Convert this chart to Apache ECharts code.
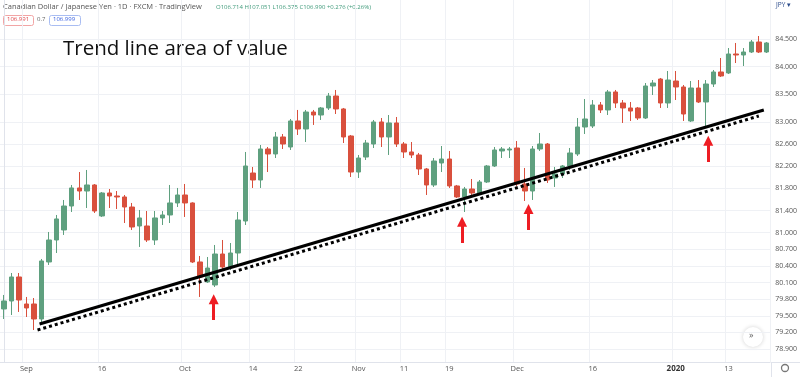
<!DOCTYPE html>
<html>
<head>
<meta charset="utf-8">
<script src="https://cdn.jsdelivr.net/npm/echarts@6/dist/echarts.min.js"></script>
<style>
  html, body { margin: 0; padding: 0; background: #fff; }
  #main { width: 800px; height: 377px; }
</style>
</head>
<body>
<div id="main"></div>
<script>
// trading days shown on the chart
var dates = [
  '2019-08-28', '2019-08-29', '2019-08-30',
  '2019-09-02', '2019-09-03', '2019-09-04', '2019-09-05', '2019-09-06', '2019-09-09', '2019-09-10',
  '2019-09-11', '2019-09-12', '2019-09-13', '2019-09-16', '2019-09-17', '2019-09-18', '2019-09-19',
  '2019-09-20', '2019-09-23', '2019-09-24', '2019-09-25', '2019-09-26', '2019-09-27', '2019-09-30',
  '2019-10-01', '2019-10-02', '2019-10-03', '2019-10-04', '2019-10-07', '2019-10-08', '2019-10-09',
  '2019-10-10', '2019-10-11', '2019-10-14', '2019-10-15', '2019-10-16', '2019-10-17', '2019-10-18',
  '2019-10-21', '2019-10-22', '2019-10-23', '2019-10-24', '2019-10-25', '2019-10-28', '2019-10-29',
  '2019-10-30', '2019-10-31',
  '2019-11-01', '2019-11-04', '2019-11-05', '2019-11-06', '2019-11-07', '2019-11-08', '2019-11-11',
  '2019-11-12', '2019-11-13', '2019-11-14', '2019-11-15', '2019-11-18', '2019-11-19', '2019-11-20',
  '2019-11-21', '2019-11-22', '2019-11-25', '2019-11-26', '2019-11-27', '2019-11-28', '2019-11-29',
  '2019-12-02', '2019-12-03', '2019-12-04', '2019-12-05', '2019-12-06', '2019-12-09', '2019-12-10',
  '2019-12-11', '2019-12-12', '2019-12-13', '2019-12-16', '2019-12-17', '2019-12-18', '2019-12-19',
  '2019-12-20', '2019-12-23', '2019-12-24', '2019-12-26', '2019-12-27', '2019-12-30', '2019-12-31',
  '2020-01-02', '2020-01-03', '2020-01-06', '2020-01-07', '2020-01-08', '2020-01-09', '2020-01-10',
  '2020-01-13', '2020-01-14', '2020-01-15', '2020-01-16', '2020-01-17', '2020-01-20'
]

var opens = [
  79.623, 79.767, 80.201, 79.713, 79.713, 79.442, 80.472, 80.869, 81.050, 81.483,
  81.809, 81.754, 81.863, 81.303, 81.718, 81.664, 81.646, 81.465, 81.122, 81.122,
  80.869, 81.267, 81.321, 81.538, 81.682, 81.538, 80.472, 80.111, 80.056, 80.616,
  80.381, 80.634, 81.212, 82.079, 81.953, 82.513, 82.423, 82.730, 82.549, 83.019,
  82.874, 83.181, 83.127, 83.254, 83.470, 83.236, 82.748, 82.097, 82.368, 82.603,
  83.001, 82.730, 82.983, 82.603, 82.459, 82.405, 82.152, 81.863, 82.260, 82.332,
  81.845, 81.646, 81.790, 81.718, 81.917, 82.206, 82.477, 82.495, 82.531, 81.881,
  81.754, 82.513, 82.603, 81.989, 82.061, 82.206, 82.423, 82.910, 82.928, 83.308,
  83.218, 83.543, 83.344, 83.254, 83.254, 83.073, 83.651, 83.777, 83.344, 83.741,
  83.633, 83.019, 83.615, 83.362, 83.687, 83.904, 83.886, 84.229, 84.211, 84.265,
  84.446, 84.265
]
var closes = [
  79.767, 80.201, 79.785, 79.641, 79.442, 80.490, 80.869, 81.249, 81.483, 81.809,
  81.754, 81.863, 81.393, 81.718, 81.664, 81.646, 81.465, 81.104, 81.267, 80.869,
  81.267, 81.321, 81.538, 81.682, 81.538, 80.472, 80.201, 80.363, 80.616, 80.381,
  80.634, 81.230, 82.206, 81.953, 82.513, 82.423, 82.730, 82.603, 83.019, 82.874,
  83.181, 83.127, 83.254, 83.470, 83.236, 82.730, 82.097, 82.350, 82.621, 83.001,
  82.730, 82.983, 82.603, 82.459, 82.405, 82.152, 81.863, 82.296, 82.332, 81.845,
  81.646, 81.790, 81.718, 81.917, 82.206, 82.495, 82.513, 82.513, 81.881, 81.754,
  82.513, 82.603, 81.953, 82.061, 82.206, 82.441, 82.910, 83.055, 83.308, 83.218,
  83.543, 83.344, 83.254, 83.199, 83.073, 83.651, 83.705, 83.344, 83.759, 83.633,
  83.145, 83.615, 83.362, 83.687, 83.904, 83.832, 84.229, 84.211, 84.265, 84.446,
  84.265, 84.428
]
var lows = [
  79.442, 79.514, 79.569, 79.478, 79.243, 79.370, 80.418, 80.634, 80.960, 81.375,
  81.592, 81.447, 81.357, 81.285, 81.447, 81.429, 81.176, 81.050, 80.743, 80.833,
  80.779, 81.140, 81.176, 81.465, 81.285, 80.454, 79.840, 80.092, 80.020, 80.327,
  80.327, 80.381, 81.140, 81.809, 81.809, 82.097, 82.350, 82.513, 82.495, 82.766,
  82.639, 82.947, 83.037, 83.218, 83.145, 82.621, 82.007, 81.989, 82.314, 82.531,
  82.549, 82.405, 82.549, 82.350, 82.350, 82.043, 81.682, 81.827, 82.097, 81.809,
  81.628, 81.375, 81.682, 81.682, 81.899, 82.188, 82.350, 82.350, 81.845, 81.574,
  81.592, 82.477, 81.899, 81.827, 81.989, 82.134, 82.387, 82.784, 82.892, 83.163,
  83.127, 83.254, 82.983, 83.019, 83.037, 83.055, 83.488, 83.254, 83.254, 83.398,
  83.019, 83.001, 83.344, 82.928, 83.633, 83.814, 83.868, 84.066, 84.012, 84.247,
  84.247, 84.247
]
var highs = [
  79.876, 80.273, 80.273, 79.840, 79.821, 80.526, 81.014, 81.321, 81.592, 81.863,
  82.097, 82.134, 81.880, 81.736, 81.790, 81.754, 81.682, 81.538, 81.411, 81.393,
  81.393, 81.393, 81.863, 81.809, 81.881, 81.550, 80.580, 80.562, 80.779, 80.869,
  80.815, 81.375, 82.459, 82.188, 82.585, 82.549, 82.820, 82.784, 83.055, 83.218,
  83.218, 83.218, 83.272, 83.525, 83.579, 83.254, 82.766, 82.405, 82.676, 83.037,
  83.073, 83.127, 83.091, 82.639, 82.639, 82.441, 82.170, 82.350, 82.567, 82.477,
  81.863, 81.827, 81.971, 81.953, 82.224, 82.549, 82.549, 82.549, 82.657, 82.170,
  82.567, 82.802, 82.621, 82.188, 82.224, 82.531, 83.073, 83.416, 83.398, 83.362,
  83.579, 83.579, 83.398, 83.362, 83.272, 83.705, 83.759, 83.796, 83.922, 83.922,
  83.669, 83.741, 83.759, 83.759, 83.940, 84.157, 84.337, 84.428, 84.337, 84.482,
  84.554, 84.446
]

// time axis labels
var tickDates = ['2019-09-02', '2019-09-16', '2019-10-01', '2019-10-14', '2019-10-22', '2019-11-01',
  '2019-11-11', '2019-11-19', '2019-12-02', '2019-12-16', '2020-01-02', '2020-01-13']
var tickLabels = ['Sep', '16', 'Oct', '14', '22', 'Nov', '11', '19', 'Dec', '16', '2020', '13']

// price scale labels
var priceTicks = [78.9, 79.2, 79.5, 79.8, 80.1, 80.4, 80.7, 81.0, 81.4, 81.8, 82.2, 82.6, 83.0, 83.5, 84.0, 84.5]

// trend lines [bar position, price]
var trendLine = [[4.74, 79.352], [100.66, 83.218]]
var trendLineDotted = [[4.47, 79.243], [100.0, 83.109]]

// red arrows [bar position, tail price, head price]
var arrows = [
  [27.8, 79.424, 79.80],
  [60.7, 80.815, 81.20],
  [69.5, 81.050, 81.43],
  [93.3, 82.278, 82.66]
]

var candleData = []
for (var i = 0; i < dates.length; i++) {
  candleData.push([opens[i], closes[i], lows[i], highs[i]])
}

var dom = document.getElementById('main')
var myChart = echarts.init(dom)
var option = {
  animation: false,
  backgroundColor: '#ffffff',
  grid: { left: -2, right: 29, top: 0, bottom: 15 },
  xAxis: [
    {
      type: 'category',
      data: dates,
      boundaryGap: true,
      axisLine: { show: true, lineStyle: { color: '#e0e3eb' } },
      axisTick: { show: false },
      axisLabel: {
        interval: function (idx, val) { return tickDates.indexOf(val) >= 0 },
        formatter: function (val) {
          var k = tickDates.indexOf(val)
          if (k < 0) return ''
          return tickLabels[k] === '2020' ? '{b|2020}' : tickLabels[k]
        },
        rich: { b: { fontSize: 8, fontWeight: 'bold', color: '#333' } },
        fontSize: 7.5,
        color: '#555',
        margin: 3,
        fontFamily: 'Open Sans',
      },
      splitLine: {
        show: true,
        interval: function (idx, val) { return tickDates.indexOf(val) >= 0 },
        lineStyle: { color: '#eff1f5' },
      },
    },
    {
      type: 'value',
      min: -0.5,
      max: dates.length - 0.5,
      show: false,
    },
  ],
  yAxis: {
    type: 'value',
    position: 'right',
    min: 78.665,
    max: 85.2045,
    axisLine: { show: true, lineStyle: { color: '#e0e3eb' } },
    axisTick: { show: false, customValues: priceTicks },
    axisLabel: {
      customValues: priceTicks,
      formatter: function (v) { return v.toFixed(3) },
      fontSize: 7,
      color: '#555',
      margin: 5,
      fontFamily: 'Open Sans',
    },
    splitLine: { show: true, lineStyle: { color: '#eff1f5' } },
  },
  graphic: [
    {
      type: 'text', left: 3, top: 3,
      style: { text: 'Canadian Dollar / Japanese Yen · 1D · FXCM · TradingView', fontSize: 7.5, fill: '#555', fontFamily: 'Open Sans' },
    },
    {
      type: 'text', left: 216, top: 4,
      style: { text: 'O106.714 H107.051 L106.375 C106.990 +0.276 (+0.26%)', fontSize: 6, fill: '#3f9a7a', fontFamily: 'Open Sans' },
    },
    {
      type: 'rect', shape: { x: 3.5, y: 15.5, width: 30, height: 10, r: 2 },
      style: { fill: '#fff', stroke: '#f2a5a5', lineWidth: 1 },
    },
    {
      type: 'text', left: 7, top: 16,
      style: { text: '106.991', fontSize: 6, fill: '#e0464a', fontFamily: 'Open Sans' },
    },
    {
      type: 'text', left: 37, top: 16,
      style: { text: '0.7', fontSize: 6, fill: '#666', fontFamily: 'Open Sans' },
    },
    {
      type: 'rect', shape: { x: 49.5, y: 15.5, width: 31, height: 10, r: 2 },
      style: { fill: '#fff', stroke: '#a9bdf2', lineWidth: 1 },
    },
    {
      type: 'text', left: 53, top: 16,
      style: { text: '106.999', fontSize: 6, fill: '#3a62e0', fontFamily: 'Open Sans' },
    },
    {
      type: 'text', left: 63, top: 39,
      style: { text: 'Trend line area of value', fontSize: 20.5, fill: '#111', fontFamily: 'Open Sans' },
    },
    {
      type: 'text', left: 776, top: 2,
      style: { text: 'JPY ▾', fontSize: 6.5, fill: '#2a4a8a', fontFamily: 'Open Sans' },
    },
    {
      type: 'line', shape: { x1: 771.5, y1: 362, x2: 771.5, y2: 377 },
      style: { stroke: '#e0e3eb', lineWidth: 1 },
    },
    {
      type: 'line', shape: { x1: 771, y1: 362.5, x2: 800, y2: 362.5 },
      style: { stroke: '#e0e3eb', lineWidth: 1 },
    },
    {
      type: 'circle', shape: { cx: 785, cy: 368, r: 3.5 },
      style: { fill: 'none', stroke: '#777', lineWidth: 1.3 },
    },
    {
      type: 'circle', shape: { cx: 753, cy: 337, r: 10 },
      style: { fill: '#fff', shadowBlur: 4, shadowColor: 'rgba(0,0,0,0.18)' },
    },
    {
      type: 'text', left: 749, top: 331,
      style: { text: '»', fontSize: 9, fill: '#666', fontFamily: 'Open Sans' },
    },
  ],
  series: [
    {
      type: 'candlestick',
      data: candleData,
      barWidth: 5,
      itemStyle: {
        color: '#5fa07f',
        color0: '#d9503d',
        borderColor: '#5fa07f',
        borderColor0: '#d9503d',
        borderWidth: 1,
      },
    },
    {
      type: 'line',
      xAxisIndex: 1,
      data: trendLineDotted,
      symbol: 'none',
      lineStyle: { color: '#000', width: 3, type: 'dotted' },
      z: 4,
    },
    {
      type: 'line',
      xAxisIndex: 1,
      data: trendLine,
      symbol: 'none',
      lineStyle: { color: '#000', width: 3 },
      z: 5,
      markLine: {
        silent: true,
        symbol: ['none', 'triangle'],
        symbolSize: [10, 10],
        label: { show: false },
        lineStyle: { color: '#ee1d23', width: 3, type: 'solid' },
        data: arrows.map(function (a) {
          return [{ coord: [a[0], a[1]] }, { coord: [a[0], a[2]] }]
        }),
      },
    },
  ],
}
myChart.setOption(option, true)
</script>
</body>
</html>
